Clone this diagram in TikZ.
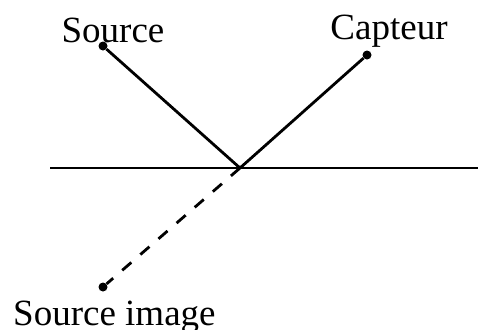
\documentclass[tikz,border=0pt]{standalone}
\usepackage{fontspec}
\setmainfont{Liberation Serif}
\usetikzlibrary{positioning}
\tikzstyle{point} = [circle, fill=black, inner sep=0pt, minimum size=9bp]
\tikzstyle{caption} = [inner sep=0pt, font=\fontsize{37bp}{40bp}\selectfont]
\tikzstyle{ray} = [line width=2.8bp]
\tikzstyle{virtual} = [line width=2.8bp, dash pattern=on 12bp off 12bp]

\begin{document}
\begin{tikzpicture}[x=1bp,y=-1bp]
\useasboundingbox (0,0) rectangle (478,329);
\node (source) [point] at (103,46) {};
\node (capteur) [point] at (367,55) {};
\node (image) [point] at (103,287) {};
\coordinate (refl) at (240,168);
\coordinate (mirrorL) at (50,168);
\coordinate (mirrorR) at (478,168);

\draw [ray] (mirrorL) -- (mirrorR);
\draw [ray] (source) -- (refl);
\draw [ray] (refl) -- (capteur);
\draw [virtual] (refl) -- (image);

\node (sourcetext) [caption, anchor=base] at (113,42) {Source};
\node (capteurtext) [caption, anchor=base] at (389,39) {Capteur};
\node (imagetext) [caption, anchor=base west] at (13,325) {Source image};
\end{tikzpicture}
\end{document}
